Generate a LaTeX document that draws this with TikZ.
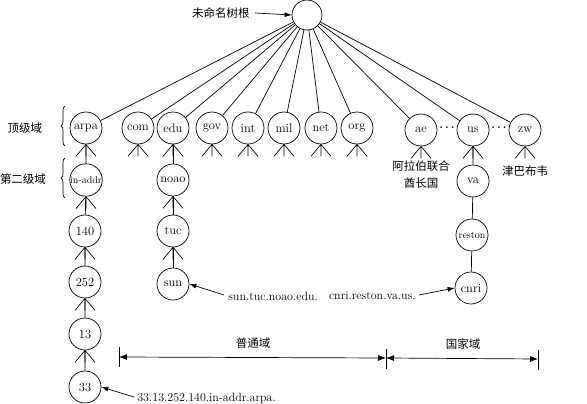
\documentclass[tikz,border=0pt]{standalone}
\usepackage{fontspec}
\newfontfamily\cjk{Noto Sans CJK SC}
\usetikzlibrary{decorations.pathreplacing,arrows.meta}
\begin{document}
\begin{tikzpicture}[x=1pt,y=-1pt,
  dn/.style={draw,circle,minimum size=32pt,inner sep=0pt,font=\fontsize{12.5}{14}\selectfont},
  sdn/.style={dn,font=\fontsize{10}{11}\selectfont},
  lbl/.style={font=\cjk\fontsize{11.5}{14}\selectfont,inner sep=0pt},
  ann/.style={font=\fontsize{12}{14}\selectfont,inner sep=0pt,anchor=west},
  arr/.style={-{Latex[length=7pt,width=5pt]}},
  line width=0.7pt]
\useasboundingbox (0,0) rectangle (587,404);
% root
\node[draw,circle,minimum size=30pt,inner sep=0pt] (root) at (307,15) {};
\node[lbl,anchor=east] (rootlbl) at (250,13) {未命名树根};
\draw[arr] (rootlbl.east) ++(5,0) coordinate (ra) (ra) -- (root.west);
% top level
\node[dn] (arpa) at (86,128) {arpa};
\node[dn] (com) at (138,128) {com};
\node[dn] (edu) at (173,128) {edu};
\node[dn] (gov) at (212,128) {gov};
\node[dn] (int) at (248,128) {int};
\node[dn] (mil) at (284,128) {mil};
\node[dn] (net) at (321,128) {net};
\node[dn] (org) at (357,128) {org};
\node[dn] (ae) at (421,130) {ae};
\node[dn] (us) at (473,130) {us};
\node[dn] (zw) at (525,130) {zw};
\foreach \n in {arpa,com,edu,gov,int,mil,net,org,ae,us,zw}
  \draw (root) -- (\n);
\node[font=\bfseries\fontsize{12}{14}\selectfont] (d1) at (447,128) {.\,.\,.};
\node[font=\bfseries\fontsize{12}{14}\selectfont] (d2) at (499,128) {.\,.\,.};
% arpa chain
\node[sdn] (inaddr) at (86,180) {in-addr};
\node[dn] (n140) at (85,231) {140};
\node[dn] (n252) at (85,282) {252};
\node[dn] (n13) at (85,334) {13};
\node[dn] (n33) at (85,387) {33};
\draw (arpa) -- (inaddr) (inaddr) -- (n140) (n140) -- (n252) (n252) -- (n13) (n13) -- (n33);
% edu chain
\node[dn] (noao) at (173,180) {noao};
\node[dn] (tuc) at (173,231) {tuc};
\node[dn] (sun) at (173,284) {sun};
\draw (edu) -- (noao) (noao) -- (tuc) (tuc) -- (sun);
% us chain
\node[dn] (va) at (473,181) {va};
\node[sdn] (reston) at (472,235) {reston};
\node[dn] (cnri) at (471,288) {cnri};
\draw (us) -- (va) (va) -- (reston) (reston) -- (cnri);
% forks
\foreach \n in {arpa,com,edu,gov,int,mil,net,org,ae,us,zw,inaddr,n140,n252,n13,noao,tuc}
  \draw (\n.south) -- ++(-10,12) (\n.south) -- ++(0,12) (\n.south) -- ++(10,12);
% left labels and braces
\node[lbl] (tl) at (25,128) {顶级域};
\node[lbl] (sl) at (23,179) {第二级域};
\draw[decorate,decoration={brace,amplitude=4pt}] (65,146) -- (65,106);
\draw[decorate,decoration={brace,amplitude=4pt}] (65,198) -- (65,158);
% country labels
\node[lbl,align=center] (aelbl) at (421,175) {阿拉伯联合\\[3pt]酋长国};
\node[lbl] (zwlbl) at (525,171) {津巴布韦};
% annotations
\node[ann] (sunlbl) at (228,296) {sun.tuc.noao.edu.};
\draw[arr] (sunlbl.west) ++(-4,-1) coordinate (sa) (sa) -- (sun.east);
\node[ann,anchor=east] (cnrilbl) at (416,296) {cnri.reston.va.us.};
\draw[arr] (cnrilbl.east) ++(3,-1) coordinate (ca) (ca) -- (cnri.west);
\node[ann] (n33lbl) at (137,398) {33.13.252.140.in-addr.arpa.};
\draw[arr] (n33lbl.west) ++(-3,-1) coordinate (na) (na) -- (n33.east);
% dimension line
\coordinate (tL) at (119,357);
\coordinate (tM) at (386,358);
\coordinate (tR) at (538,359);
\draw (119,347) -- (119,367) (386,349) -- (386,369) (538,350) -- (538,370);
\draw[{Latex[length=8pt,width=6pt]}-{Latex[length=8pt,width=6pt]}] (tL) -- (tM);
\draw[{Latex[length=8pt,width=6pt]}-{Latex[length=8pt,width=6pt]}] (tM) -- (tR);
\node[lbl] (gen) at (253,343) {普通域};
\node[lbl] (cty) at (463,344) {国家域};
\end{tikzpicture}
\end{document}
